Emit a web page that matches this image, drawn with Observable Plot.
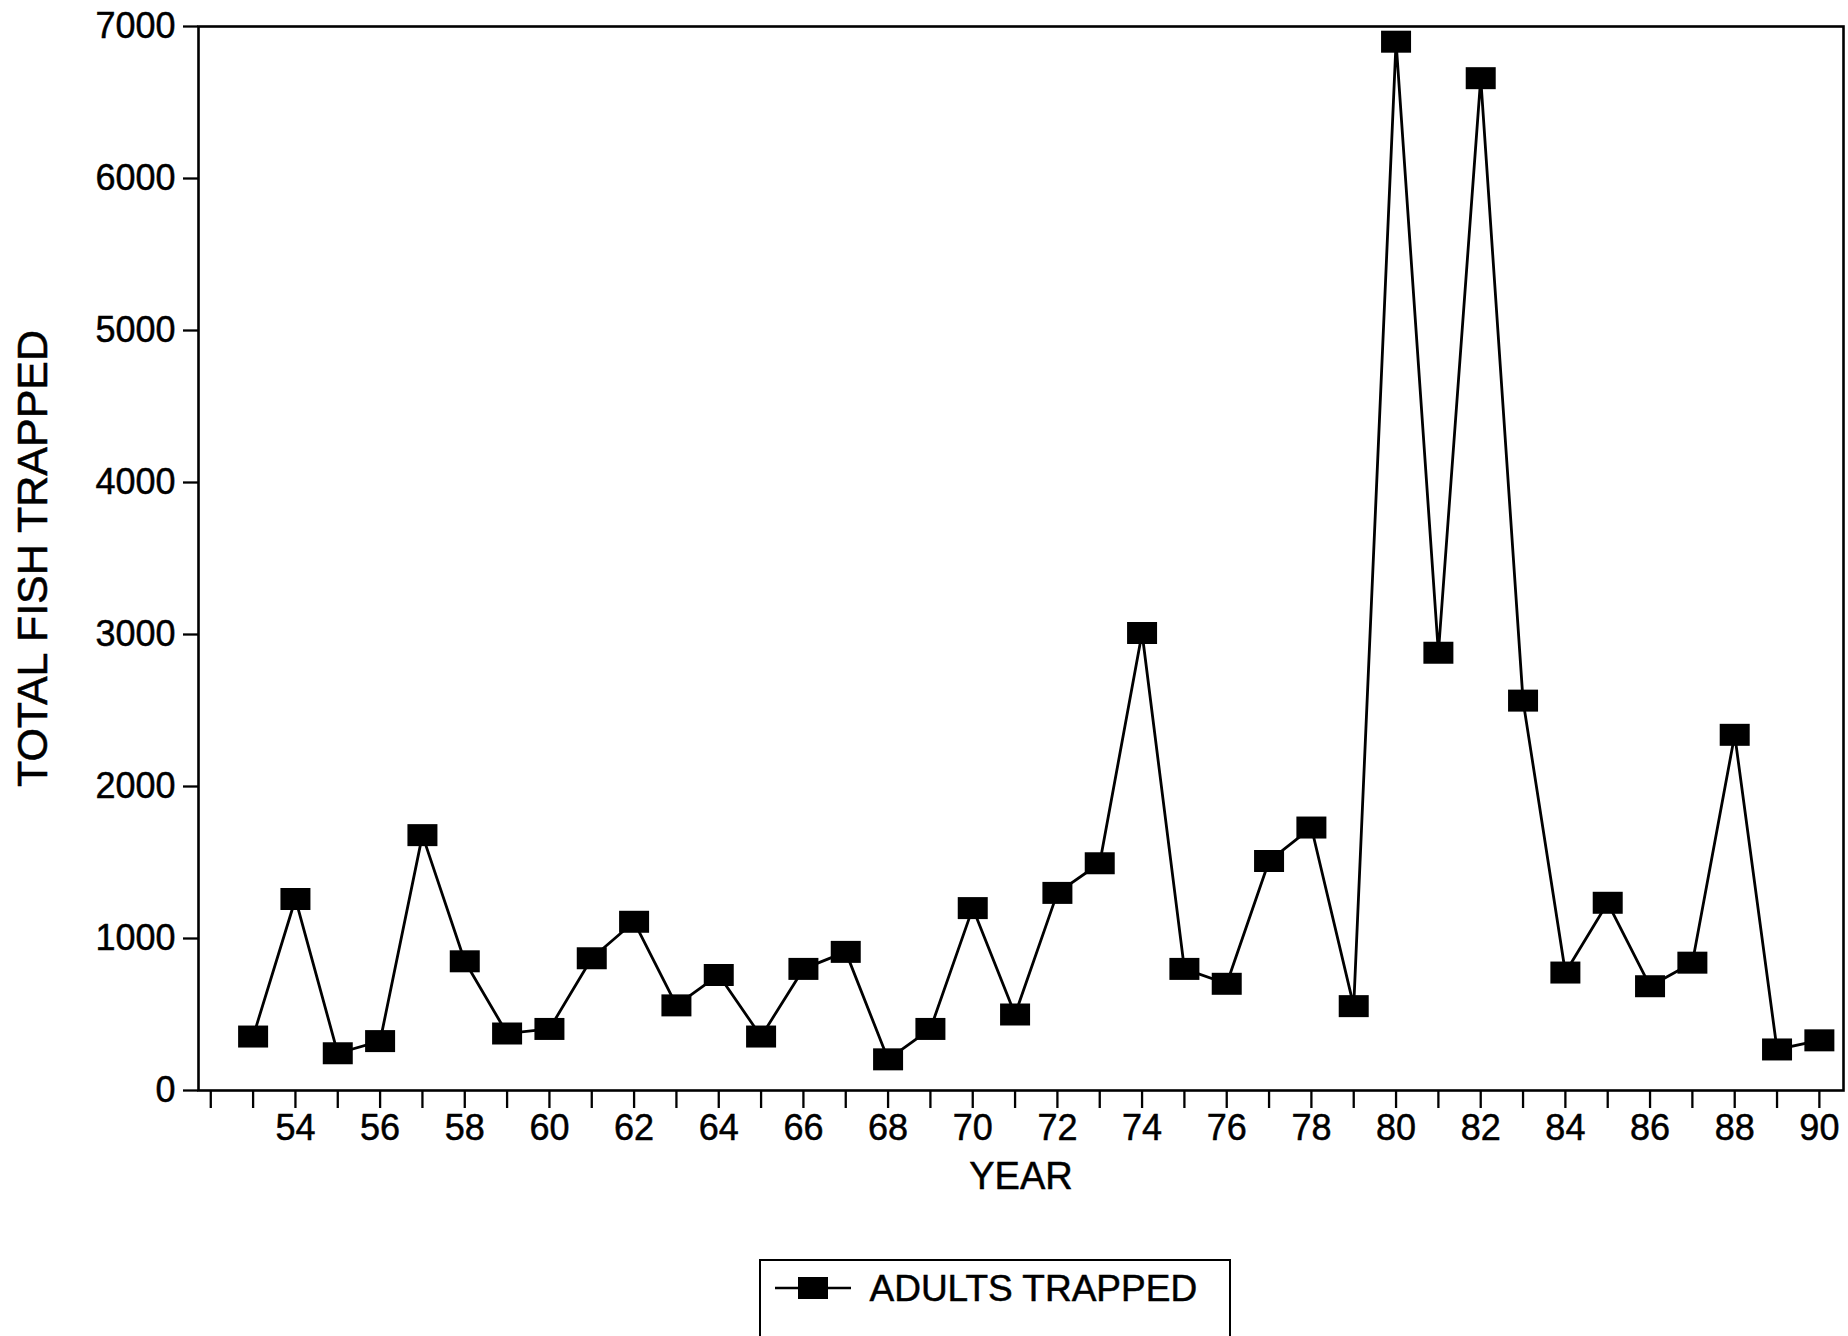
<!DOCTYPE html>
<html>
<head>
<meta charset="utf-8">
<script src="https://cdn.jsdelivr.net/npm/d3@7"></script>
<script src="https://cdn.jsdelivr.net/npm/@observablehq/plot@0.6"></script>
<style>
  html, body { margin: 0; padding: 0; background: #fff; }
  body { font-family: "Liberation Sans", Arial, Helvetica, sans-serif; color: #000; }
  #chart svg { display: block; }
  #chart svg text { stroke: #000; stroke-width: 0.5px; }
  #legend {
    position: relative;
    margin: 9px 0 0 759px;
    width: 472px;
    height: 110px;
    box-sizing: border-box;
    border: 2.5px solid #000;
  }
  #legend svg { position: absolute; left: 13.5px; top: 14.5px; }
  #legend span {
    position: absolute; left: 108.5px; top: 9px;
    font-size: 37px; line-height: 1; white-space: nowrap;
    -webkit-text-stroke: 0.5px #000;
  }
</style>
</head>
<body>
<div id="chart"></div>
<div id="legend"></div>
<script>
// Adult fish counted at the trap, by year (19xx)
const years = [53, 54, 55, 56, 57, 58, 59, 60, 61, 62, 63, 64, 65, 66, 67, 68, 69, 70, 71,
               72, 73, 74, 75, 76, 77, 78, 79, 80, 81, 82, 83, 84, 85, 86, 87, 88, 89, 90];
const adultsTrapped = [355, 1260, 245, 325, 1680, 850, 375, 405, 870, 1110, 560, 760, 355, 800, 912, 205, 405, 1200, 500,
                       1300, 1495, 3010, 800, 702, 1510, 1730, 555, 6900, 2880, 6660, 2565, 776, 1235, 686, 841, 2340, 270, 330];

// Axis ticks and labels
const yTickValues = [0, 1000, 2000, 3000, 4000, 5000, 6000, 7000];
const xTickYears = d3.range(52, 91);
const xLabelYears = [54, 56, 58, 60, 62, 64, 66, 68, 70, 72, 74, 76, 78, 80, 82, 84, 86, 88, 90];
const xTitle = "YEAR";
const yTitle = "TOTAL FISH TRAPPED";
const seriesName = "ADULTS TRAPPED";

const data = years.map((year, i) => ({year, count: adultsTrapped[i]}));

// Filled rectangular marker, 30 × 22 px
const BOX_W = 30, BOX_H = 22;
const boxSymbol = {
  draw(ctx, size) {
    const k = Math.sqrt(size / (BOX_W * BOX_H));
    const w = BOX_W * k, h = BOX_H * k;
    ctx.rect(-w / 2, -h / 2, w, h);
    ctx.closePath();
  }
};
const boxR = Math.sqrt(BOX_W * BOX_H / Math.PI);

const font = '"Liberation Sans", Arial, Helvetica, sans-serif';

const chart = Plot.plot({
  width: 1848,
  height: 1250,
  marginLeft: 198,
  marginRight: 5,
  marginTop: 26,
  marginBottom: 160,
  style: {fontFamily: font, fontSize: "36px", color: "black", background: "white", overflow: "visible"},
  x: {domain: [51.71, 90.57]},
  y: {domain: [0, 7000]},
  marks: [
    Plot.axisX({
      ticks: xTickYears, tickSize: 18, tickPadding: 6, strokeWidth: 2.3,
      tickFormat: d => xLabelYears.includes(d) ? String(d) : "",
      label: null
    }),
    Plot.axisY({
      ticks: yTickValues, tickSize: 15, tickPadding: 8, strokeWidth: 2.3,
      tickFormat: d => String(d),
      label: null
    }),
    Plot.frame({stroke: "black", strokeWidth: 2.6}),
    Plot.line(data, {x: "year", y: "count", stroke: "black", strokeWidth: 2.8}),
    Plot.dot(data, {x: "year", y: "count", symbol: boxSymbol, r: boxR, fill: "black", stroke: "none"}),
    Plot.text([xTitle], {frameAnchor: "bottom", textAnchor: "middle", lineAnchor: "bottom", dy: 98, fontSize: 38}),
    Plot.text([yTitle], {frameAnchor: "left", textAnchor: "middle", lineAnchor: "middle", rotate: -90, dx: -165, fontSize: 43})
  ]
});
document.getElementById("chart").append(chart);

// Legend: line-and-box swatch followed by the series name
const legend = d3.select("#legend");
const sw = legend.append("svg").attr("width", 80).attr("height", 24);
sw.append("line").attr("x1", 0).attr("x2", 76).attr("y1", 12).attr("y2", 12)
  .attr("stroke", "black").attr("stroke-width", 2.4);
sw.append("rect").attr("x", 23).attr("y", 1).attr("width", BOX_W).attr("height", BOX_H).attr("fill", "black");
legend.append("span").text(seriesName);
</script>
</body>
</html>
